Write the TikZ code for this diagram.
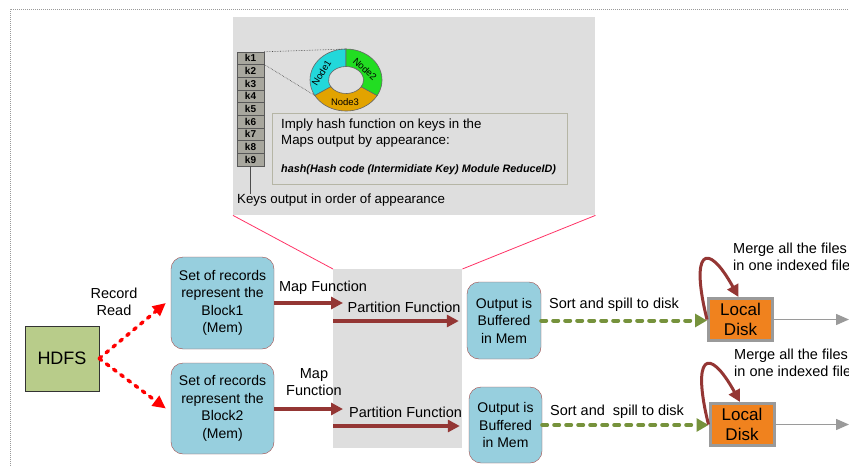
\documentclass[tikz,border=0pt]{standalone}
\usepackage{fontspec}
\setmainfont{Liberation Sans}
\usepackage{tikz}
\usetikzlibrary{arrows.meta}

\definecolor{panelgray}{HTML}{DEDEDE}
\definecolor{boxblue}{HTML}{97CFDE}
\definecolor{boxrim}{HTML}{A24A48}
\definecolor{arrowred}{HTML}{943634}
\definecolor{readred}{HTML}{FF0000}
\definecolor{spillgreen}{HTML}{76923C}
\definecolor{hdfsgreen}{HTML}{B8CC8A}
\definecolor{diskorange}{HTML}{F0821E}
\definecolor{diskrim}{HTML}{9A9A9A}
\definecolor{zoomline}{HTML}{FF3366}
\definecolor{keygray}{HTML}{A8A79E}
\definecolor{ringcyan}{HTML}{22D8DA}
\definecolor{ringgreen}{HTML}{22DD22}
\definecolor{ringorange}{HTML}{E2A300}
\definecolor{hashrim}{HTML}{B5B5A5}

\newcommand\lblfont{\fontsize{14.5}{17.5}\selectfont}
\newcommand\smallfont{\fontsize{13.3}{16}\selectfont}
\newcommand\keyfont{\fontsize{10}{11}\selectfont\bfseries}
\newcommand\ringfont{\fontsize{9.5}{11}\selectfont}
\newcommand\formulafont{\fontsize{10.8}{12}\selectfont\bfseries\itshape}
\newcommand\diskfont{\fontsize{17}{20}\selectfont}

\tikzset{
  framedots/.style={draw=gray!80, densely dotted, line width=1pt},
  panel/.style={fill=panelgray, inner sep=0, anchor=north west},
  zoomedge/.style={draw=zoomline, line width=0.8pt},
  keybox/.style={draw=black!65, fill=keygray, minimum width=27, minimum height=12.67, inner sep=0, font=\keyfont},
  keylink/.style={draw=black!70, densely dotted, line width=0.6pt},
  hashframe/.style={draw=hashrim, fill=panelgray, line width=0.8pt, inner sep=0},
  recbox/.style={draw=boxrim, fill=boxblue, rounded corners=12pt, align=center, inner sep=0, font=\fontsize{14}{17.5}\selectfont},
  hdfsbox/.style={draw=black!80, fill=hdfsgreen, minimum width=74, minimum height=65, inner sep=0, font=\fontsize{18}{20}\selectfont},
  diskbox/.style={draw=diskrim, fill=diskorange, line width=3pt, minimum width=64, minimum height=42, inner sep=0, align=center, font=\diskfont},
  readarrow/.style={draw=readred, line width=3.5pt, line cap=round, dash pattern=on 3pt off 6pt, -{Triangle[length=13pt,width=12pt]}},
  maparrow/.style={draw=arrowred, line width=4pt, -{Triangle[length=12pt,width=12pt]}},
  spillarrow/.style={draw=spillgreen, line width=4pt, line cap=round, dash pattern=on 5pt off 7pt, -{Triangle[length=12pt,width=13pt]}},
  exitarrow/.style={draw=diskrim, line width=1.5pt, -{Triangle[length=13pt,width=11pt]}},
  mergeloop/.style={draw=arrowred, line width=3pt, -{Triangle[length=12pt,width=12pt]}},
  lbl/.style={font=\lblfont, align=center, inner sep=0}
}

\begin{document}
\begin{tikzpicture}[x=1pt,y=-1pt]
\useasboundingbox (0,0) rectangle (849,466);
\draw[framedots] (10,466) -- (10,9) -- (849,9);

% zoomed panels
\node[panel, minimum width=362, minimum height=198] (toppanel) at (233,17) {};
\node[panel, minimum width=129, minimum height=179] (midpanel) at (333,269) {};
\draw[zoomedge] (toppanel.south west) -- (midpanel.north west);
\draw[zoomedge] (toppanel.south east) -- (midpanel.north east);

% keys
\foreach \i in {1,...,9}
  \node[keybox] (k\i) at (250.5,{45.67+12.67*\i}) {k\i};
\node[anchor=west, font=\smallfont, inner sep=0] (keylbl) at (237,200) {Keys output in order of appearance};
\draw[black!70, line width=0.6pt] (k9.south) -- (k9.south |- keylbl.north);

% ring of nodes
\begin{scope}[shift={(346,80)}]
\foreach \a/\b/\c in {90/210/ringcyan,210/330/ringorange,330/450/ringgreen}
  \filldraw[fill=\c, draw=black!60, line width=0.6pt] (\a:36pt and 31pt)
    arc[start angle=\a, end angle=\b, x radius=36pt, y radius=31pt]
    -- (\b:17.5pt and 13.5pt)
    arc[start angle=\b, end angle=\a, x radius=17.5pt, y radius=13.5pt] -- cycle;
\coordinate (ringtop) at (90:36pt and 31pt);
\coordinate (ringleft) at (210:36pt and 31pt);
\end{scope}
\node[font=\ringfont, rotate=58, inner sep=0] (node1) at (321.5,73) {Node1};
\node[font=\ringfont, rotate=-42, inner sep=0] (node2) at (365,69) {Node2};
\node[font=\ringfont, inner sep=0] (node3) at (345,102) {Node3};
\draw[keylink] (k1.north east) -- (ringtop);
\draw[keylink] (k2.north east) -- (ringleft);

% hash text
\node[hashframe, minimum width=295, minimum height=71] (hashbox) at (419.5,148.5) {};
\node[anchor=west, align=left, font=\smallfont, inner sep=0] (hashtxt) at (281,133) {Imply hash function on keys in the\\Maps output by appearance:};
\node[anchor=west, font=\formulafont, inner sep=0] (hashfml) at (281,170) {hash(Hash code (Intermidiate Key) Module ReduceID)};

% input side
\node[hdfsbox] (hdfs) at (62,358.5) {HDFS};
\node[recbox, minimum width=103, minimum height=92] (blk1) at (222.5,303) {Set of records\\represent the\\Block1\\(Mem)};
\node[recbox, minimum width=103, minimum height=91] (blk2) at (222.5,408.5) {Set of records\\represent the\\Block2\\(Mem)};
\node[lbl] (readlbl) at (114,302) {Record\\Read};
\draw[readarrow] (hdfs.east) -- ([xshift=-5]blk1.west);
\draw[readarrow] (hdfs.east) -- ([xshift=-5]blk2.west);

% buffers and disks
\node[recbox, minimum width=74, minimum height=77] (out1) at (504,320.5) {Output is\\Buffered\\in Mem};
\node[recbox, minimum width=73, minimum height=76] (out2) at (505.5,425) {Output is\\Buffered\\in Mem};
\node[diskbox] (disk1) at (740.5,319.5) {Local\\Disk};
\node[diskbox] (disk2) at (742,424.5) {Local\\Disk};

% map and partition
\coordinate (mapend1) at (343,303);
\coordinate (mapend2) at (343,409);
\coordinate (partstart1) at (333,321);
\coordinate (partstart2) at (333,426);
\draw[maparrow] (blk1.east) -- (mapend1);
\draw[maparrow] (blk2.east |- mapend2) -- (mapend2);
\draw[maparrow] (partstart1) -- ([xshift=-8]out1.west |- partstart1);
\draw[maparrow] (partstart2) -- ([xshift=-9]out2.west |- partstart2);
\node[lbl] (maplbl1) at (323,288) {Map Function};
\node[lbl] (maplbl2) at (314,382) {Map\\Function};
\node[lbl] (partlbl1) at (404,307) {Partition Function};
\node[lbl] (partlbl2) at (405.5,412) {Partition Function};

% spill to disk
\draw[spillarrow] (out1.east) -- (out1.east -| disk1.west);
\draw[spillarrow] (out2.east) -- (out2.east -| disk2.west);
\node[lbl] (sortlbl1) at (614,305) {Sort and spill to disk};
\node[lbl] (sortlbl2) at (617,412) {Sort and\ \ spill to disk};

% merge and leave
\foreach \d in {1,2}
{
\draw[mergeloop] (disk\d.west) .. controls +(-17,-68) and +(-32,-58) .. ([xshift=-2]disk\d.north);
\coordinate (exit\d) at (849,{214.5+105*\d});
\draw[exitarrow] (disk\d.east) -- (exit\d);
}
\node[lbl, anchor=west, align=left] (mergelbl1) at (733,257) {Merge all the files\\in one indexed file};
\node[lbl, anchor=west, align=left] (mergelbl2) at (734,363) {Merge all the files\\in one indexed file};
\end{tikzpicture}
\end{document}
